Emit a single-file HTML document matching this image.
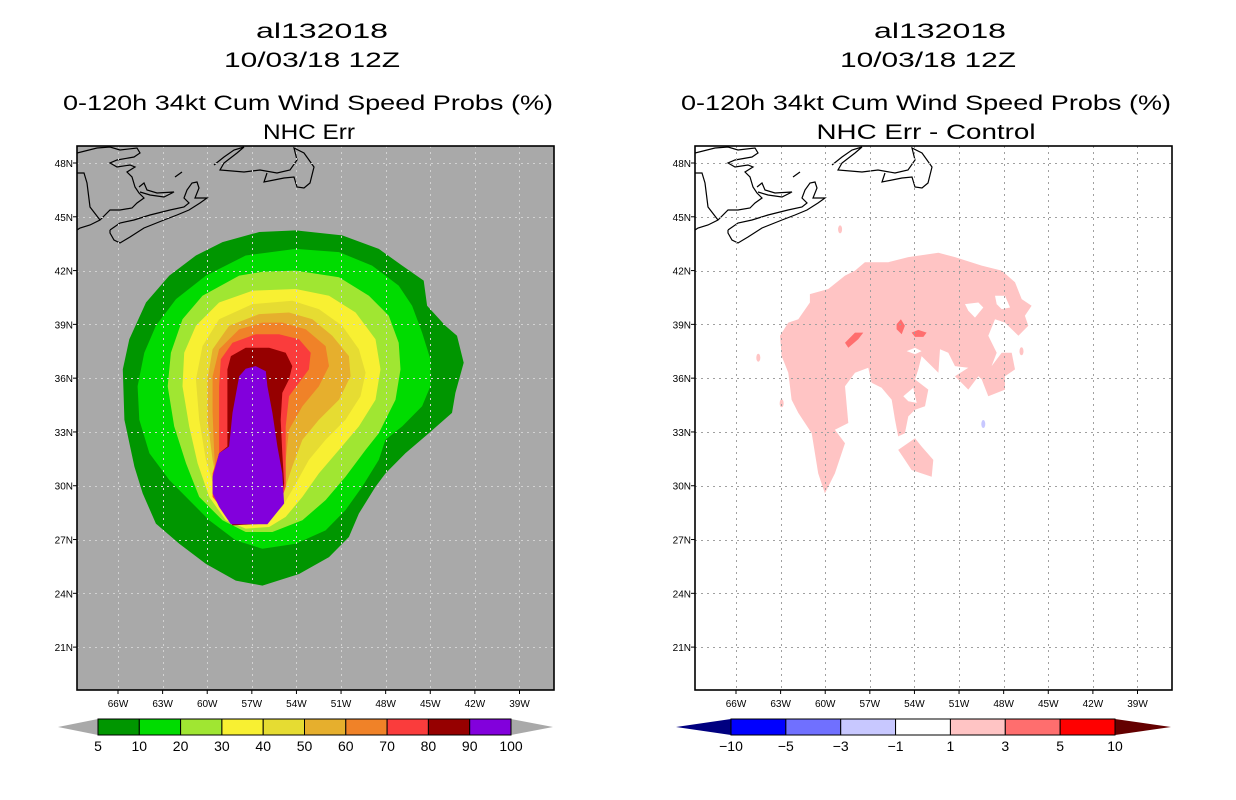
<!DOCTYPE html>
<html><head><meta charset="utf-8">
<style>
html,body{margin:0;padding:0;background:#fff;}
svg{display:block;font-family:"Liberation Sans",sans-serif;}
</style></head>
<body>
<svg id="chart" width="1236" height="800" viewBox="0 0 1236 800" xmlns="http://www.w3.org/2000/svg">
<g font-size="21" text-anchor="middle" fill="#000">
<text x="322" y="38" textLength="132" lengthAdjust="spacingAndGlyphs">al132018</text>
<text x="312" y="67" textLength="176" lengthAdjust="spacingAndGlyphs">10/03/18 12Z</text>
<text x="308" y="110" textLength="490" lengthAdjust="spacingAndGlyphs">0-120h 34kt Cum Wind Speed Probs (%)</text>
<text x="309" y="139" textLength="92" lengthAdjust="spacingAndGlyphs">NHC Err</text>
</g>
<g font-size="21" text-anchor="middle" fill="#000">
<text x="940" y="38" textLength="132" lengthAdjust="spacingAndGlyphs">al132018</text>
<text x="928" y="67" textLength="176" lengthAdjust="spacingAndGlyphs">10/03/18 12Z</text>
<text x="926" y="110" textLength="490" lengthAdjust="spacingAndGlyphs">0-120h 34kt Cum Wind Speed Probs (%)</text>
<text x="926" y="139" textLength="219" lengthAdjust="spacingAndGlyphs">NHC Err - Control</text>
</g>
<g id="leftPanel"></g>
<g id="rightPanel"></g>
<g id="leftBar"></g>
<g id="rightBar"></g>
</svg>
<script>
const lonTicks=[-66,-63,-60,-57,-54,-51,-48,-45,-42,-39];
const latTicks=[48,45,42,39,36,33,30,27,24,21];
const probLevels=['5','10','20','30','40','50','60','70','80','90','100'];
const probColors=['#009600','#00dc00','#a0e632','#f8f032','#e6dc32','#e6af2d','#f08228','#fa3c3c','#960000','#8200dc'];
const diffLevels=['-10','-5','-3','-1','1','3','5','10'];
const diffColors=['#0000ff','#7070ff','#c8c8ff','#ffffff','#ffc4c4','#ff6e6e','#ff0000'];
const probContours=[
[[-56.5,44.15],[-54.05,44.24],[-50.92,43.96],[-48.46,43.21],[-46.89,42.28],[-45.44,41.44],[-45.21,40.04],[-43.98,38.92],[-43.2,38.36],[-42.75,36.86],[-43.31,35.18],[-43.54,34.06],[-45.1,32.93],[-46.67,31.81],[-48.01,30.69],[-48.68,29.94],[-49.8,28.45],[-50.47,27.14],[-51.81,26.02],[-53.83,25.08],[-56.29,24.43],[-58.08,24.71],[-60.09,25.64],[-61.88,26.77],[-63.45,27.89],[-64.34,29.57],[-64.9,31.07],[-65.57,33.68],[-65.68,36.49],[-65.24,38.17],[-64.12,40.22],[-62.55,41.72],[-60.76,42.84],[-58.97,43.59]],
[[-54.05,43.21],[-51.14,43.03],[-48.91,42.28],[-47.12,41.16],[-46.22,40.04],[-45.55,38.54],[-44.99,37.05],[-44.99,35.55],[-45.55,34.43],[-46.89,33.31],[-48.01,32.56],[-48.46,31.44],[-49.58,29.94],[-50.7,28.64],[-52.04,27.51],[-54.05,26.77],[-56.29,26.49],[-58.08,26.95],[-59.87,28.07],[-61.21,29.2],[-62.55,30.32],[-63.89,31.81],[-64.57,33.68],[-64.68,35.55],[-64.23,37.42],[-63.45,38.92],[-62.1,40.41],[-60.09,41.72],[-57.41,42.84]],
[[-54.05,42],[-51.14,41.63],[-49.13,40.6],[-47.79,39.48],[-47.12,37.98],[-47.0,36.49],[-47.34,34.8],[-48.46,32.93],[-49.35,32.0],[-50.7,30.5],[-52.04,29.2],[-53.6,28.07],[-55.62,27.42],[-57.41,27.42],[-58.97,28.07],[-60.54,29.38],[-61.43,31.25],[-62.22,33.31],[-62.66,35.55],[-62.44,37.42],[-61.66,39.29],[-60.32,40.6],[-57.85,41.72],[-56.29,41.94]],
[[-54.05,40.97],[-51.81,40.6],[-50.02,39.66],[-48.68,38.17],[-48.35,36.49],[-48.68,34.8],[-49.8,33.31],[-51.14,32.0],[-52.49,30.69],[-53.6,29.38],[-54.72,28.26],[-55.84,27.7],[-57.41,27.61],[-58.75,28.07],[-59.87,29.38],[-60.65,31.25],[-61.21,33.31],[-61.66,35.55],[-61.55,37.42],[-60.76,38.92],[-59.2,40.22],[-56.96,40.88]],
[[-54.28,40.32],[-52.49,39.85],[-50.92,38.92],[-49.8,37.61],[-49.35,36.3],[-49.69,34.99],[-50.7,33.68],[-52.04,32.56],[-53.16,31.44],[-54.16,29.94],[-54.95,28.82],[-56.06,27.98],[-57.41,27.79],[-58.53,28.26],[-59.42,29.57],[-60.09,31.44],[-60.54,33.68],[-60.76,35.93],[-60.32,37.79],[-59.2,39.29],[-56.96,40.13]],
[[-54.5,39.66],[-52.93,39.29],[-51.59,38.36],[-50.47,37.23],[-50.36,36.11],[-51.14,34.8],[-52.49,33.68],[-53.6,32.56],[-54.28,31.07],[-54.95,29.38],[-55.62,28.36],[-57.18,27.98],[-58.3,28.36],[-59.2,29.57],[-59.64,31.44],[-59.98,33.68],[-59.98,35.93],[-59.64,37.61],[-58.53,38.92],[-56.51,39.57]],
[[-54.95,39.1],[-53.38,38.73],[-52.04,37.79],[-51.81,36.67],[-52.49,35.55],[-53.6,34.43],[-54.5,33.12],[-54.72,31.44],[-54.95,29.94],[-55.39,28.64],[-57.18,28.07],[-58.75,28.82],[-59.42,30.32],[-59.53,31.81],[-59.64,34.06],[-59.64,36.11],[-59.2,37.61],[-57.85,38.73],[-56.29,39.1]],
[[-55.17,38.45],[-53.83,38.17],[-53.04,37.42],[-53.16,36.49],[-53.83,35.74],[-54.5,34.99],[-54.72,33.31],[-54.72,31.44],[-54.72,29.94],[-55.17,28.82],[-57.18,27.98],[-58.75,28.45],[-59.64,29.38],[-59.64,30.69],[-59.2,31.81],[-59.2,33.68],[-59.2,35.55],[-59.09,37.05],[-58.3,37.98],[-56.74,38.45]],
[[-55.84,37.7],[-54.72,37.42],[-54.28,36.67],[-54.5,35.93],[-54.95,35.18],[-55.06,33.68],[-54.95,31.81],[-54.83,30.13],[-55.06,29.01],[-56.06,27.89],[-58.3,27.79],[-59.2,29.01],[-59.64,30.32],[-59.2,31.81],[-58.64,32.19],[-58.64,34.43],[-58.64,36.49],[-58.41,37.23],[-57.41,37.7]],
[[-56.74,36.67],[-56.06,36.39],[-55.95,35.55],[-55.62,34.06],[-55.28,32.19],[-54.95,30.69],[-54.83,29.01],[-55.95,27.85],[-58.41,27.85],[-59.2,28.82],[-59.64,29.57],[-59.64,30.51],[-59.2,31.81],[-58.53,32.19],[-58.3,34.06],[-57.85,36.11],[-57.41,36.52]]
];
const diffMain=[[-57.33,42.47],[-55.76,42.47],[-54.41,42.75],[-52.39,42.99],[-51.27,42.75],[-49.48,42.28],[-48.13,42.0],[-47.24,41.35],[-46.79,40.41],[-46.12,40.04],[-46.57,39.48],[-46.34,38.92],[-47.01,38.36],[-47.91,39.1],[-48.58,39.29],[-49.03,38.36],[-48.47,37.42],[-48.81,36.67],[-48.13,37.42],[-47.46,37.42],[-47.24,36.49],[-47.91,36.11],[-47.91,35.36],[-49.03,34.99],[-49.48,35.93],[-49.7,36.11],[-50.38,35.36],[-51.27,36.11],[-50.38,36.58],[-51.27,36.67],[-51.72,37.42],[-52.28,37.61],[-52.39,36.3],[-53.52,37.23],[-53.74,36.49],[-53.96,35.93],[-53.07,35.36],[-53.29,34.43],[-53.96,34.24],[-54.41,33.87],[-54.64,32.93],[-55.09,32.75],[-55.31,33.68],[-55.53,34.8],[-56.21,35.46],[-56.88,35.74],[-57.1,36.58],[-58.0,36.3],[-58.67,35.55],[-58.45,33.5],[-59.35,33.12],[-58.67,32.37],[-59.35,30.69],[-60.02,29.57],[-60.47,30.69],[-60.91,32.93],[-61.81,34.06],[-62.26,34.8],[-62.48,36.3],[-62.93,37.23],[-63.04,38.36],[-62.48,39.1],[-61.81,39.29],[-61.03,40.22],[-61.03,40.69],[-59.79,40.97],[-58.67,41.72],[-58.0,42.0]];
const diffLower=[[-55.09,32.0],[-53.96,32.65],[-53.52,32.19],[-52.73,31.44],[-52.84,30.5],[-53.52,30.69],[-54.19,30.88],[-54.64,31.44]];
const diffHoles=[
[[-50.6,40.13],[-49.7,40.22],[-49.37,39.94],[-49.93,39.38],[-50.38,39.76]],
[[-48.58,40.6],[-47.91,40.6],[-47.57,39.94],[-48.13,39.85],[-48.47,40.13]],
[[-54.52,37.51],[-53.96,37.7],[-53.52,37.51],[-53.96,37.33]],
[[-54.75,34.99],[-54.08,35.46],[-53.85,34.62],[-54.41,34.71]]
];
const diffHigh=[
[[-58.67,37.98],[-58.0,38.54],[-57.44,38.54],[-57.78,38.17],[-58.45,37.7]],
[[-55.2,39.01],[-54.91,39.29],[-54.64,38.92],[-54.86,38.45],[-55.2,38.73]],
[[-54.19,38.54],[-53.74,38.69],[-53.18,38.54],[-53.4,38.3],[-53.96,38.3]]
];
const diffSpecks=[[-64.5,37.14,1],[-62.93,34.6,1],[-46.8,37.5,1],[-49.37,33.44,-1],[-59.0,44.3,1]];

const NS='http://www.w3.org/2000/svg';
function mk(tag,attrs,parent){const e=document.createElementNS(NS,tag);for(const k in attrs)e.setAttribute(k,attrs[k]);parent.appendChild(e);return e;}
const PW=477,PH=544,PT=146;
function xScale(left){return lon=>left+41+(lon+66)*14.87;}
function yScale(lat){return PT+17+(48-lat)*17.93;}
function pts(poly,xs){return poly.map(p=>xs(p[0]).toFixed(1)+','+yScale(p[1]).toFixed(1)).join(' ');}

const coast=[
[[0,7],[20,2],[33,1],[43,4],[60,2],[63,7],[57,11],[40,14],[33,17],[40,21],[53,19],[58,21],[50,26],[55,31],[58,41],[62,47],[67,52],[60,57],[55,62],[43,64],[33,64],[23,74],[13,79],[3,82],[0,84]],
[[0,27],[7,27],[10,37],[13,61],[23,74]],
[[33,84],[43,77],[57,74],[73,69],[93,64],[107,61],[112,57],[107,52],[110,44],[115,37],[120,36],[122,42],[118,52],[130,52],[123,57],[112,64],[100,69],[87,74],[67,82],[53,91],[43,97],[37,94],[33,87],[33,84]],
[[62,41],[67,37],[70,44],[80,47],[97,46],[87,51],[73,49],[63,46]],
[[137,19],[147,11],[157,4],[167,1],[160,7],[147,17],[143,24],[167,26],[183,24],[200,27],[213,24],[220,14],[217,2],[227,7],[237,21],[233,37],[227,42],[220,41],[217,31],[207,32],[197,34],[187,36],[190,27]],
[[98,31],[105,26]]
];

function panel(g,left,bg,gridColor,drawData){
  const xs=xScale(left);
  const clipId='clip'+left;
  const cp=mk('clipPath',{id:clipId},g);mk('rect',{x:left,y:PT,width:PW,height:PH},cp);
  const bgr=mk('rect',{x:left,y:PT,width:PW,height:PH,fill:bg},g);
  
  
  const dg=mk('g',{'clip-path':'url(#'+clipId+')'},g);
  drawData(dg,xs);
  const cg=mk('g',{fill:'none',stroke:'#000','stroke-width':1.2},dg);
  
  
  coast.forEach(c=>{mk('polyline',{points:c.map(p=>(left+p[0])+','+(PT+p[1])).join(' ')},cg);});
  const gg=mk('g',{stroke:gridColor,'stroke-width':1,'stroke-dasharray':'2,4'},g);
  
  
  lonTicks.forEach(l=>{const x=Math.round(xs(l))+0.5;mk('line',{x1:x,y1:PT,x2:x,y2:PT+PH},gg);});
  latTicks.forEach(l=>{const y=Math.round(yScale(l))+0.5;mk('line',{x1:left,y1:y,x2:left+PW,y2:y},gg);});
  const fr=mk('rect',{x:left,y:PT,width:PW,height:PH,fill:'none',stroke:'#000','stroke-width':1.6},g);
  
  
  lonTicks.forEach(l=>{const x=xs(l);
    mk('line',{x1:x,y1:PT+PH,x2:x,y2:PT+PH+4,stroke:'#000'},g);
    const t=mk('text',{x:x,y:PT+PH+17,'font-size':10,'text-anchor':'middle'},g);
    
    
    t.textContent=(-l)+'W';});
  latTicks.forEach(l=>{const y=yScale(l);
    mk('line',{x1:left-4,y1:y,x2:left,y2:y,stroke:'#000'},g);
    const t=mk('text',{x:left-4,y:y+4,'font-size':10,'text-anchor':'end'},g);
    
    
    t.textContent=l+'N';});
}

panel(document.getElementById('leftPanel'),77,'#a9a9a9','#d2d2d2',(g,xs)=>{
  probContours.forEach((c,i)=>{const p=mk('polygon',{points:pts(c,xs),fill:probColors[i]},g);
    
    });
});
panel(document.getElementById('rightPanel'),695,'#ffffff','#a0a0a0',(g,xs)=>{
  const m=mk('polygon',{points:pts(diffMain,xs),fill:diffColors[4]},g);
  
  
  const lo=mk('polygon',{points:pts(diffLower,xs),fill:diffColors[4]},g);
  
  
  diffHoles.forEach(h=>{const p=mk('polygon',{points:pts(h,xs),fill:'#ffffff'},g);
    
    });
  diffHigh.forEach(h=>{const p=mk('polygon',{points:pts(h,xs),fill:diffColors[5]},g);
    
    });
  diffSpecks.forEach(s=>{const p=mk('ellipse',{cx:xs(s[0]),cy:yScale(s[1]),rx:2,ry:4,fill:s[2]>0?diffColors[4]:diffColors[2]},g);
    
    });
});

function colorbar(g,tipL,x0,x1,tipR,colors,labels,leftTip,rightTip){
  const y0=719,y1=735,ym=727,n=colors.length,w=(x1-x0)/n;
  const lt=mk('polygon',{points:`${tipL},${ym} ${x0},${y0} ${x0},${y1}`,fill:leftTip},g);
  
  
  const rt=mk('polygon',{points:`${tipR},${ym} ${x1},${y0} ${x1},${y1}`,fill:rightTip},g);
  
  
  colors.forEach((c,i)=>{const r=mk('rect',{x:x0+i*w,y:y0,width:w,height:y1-y0,fill:c,stroke:'#000','stroke-width':1},g);
    
    });
  labels.forEach((l,i)=>{const t=mk('text',{x:x0+i*w,y:751,'font-size':14,'text-anchor':'middle'},g);
    
    
    t.textContent=l.replace('-','\u2212');});
}
colorbar(document.getElementById('leftBar'),58,98,511,553,probColors,probLevels,'#a9a9a9','#a9a9a9');
colorbar(document.getElementById('rightBar'),676,731,1115,1171,diffColors,diffLevels,'#000080','#640000');
</script>
</body></html>
